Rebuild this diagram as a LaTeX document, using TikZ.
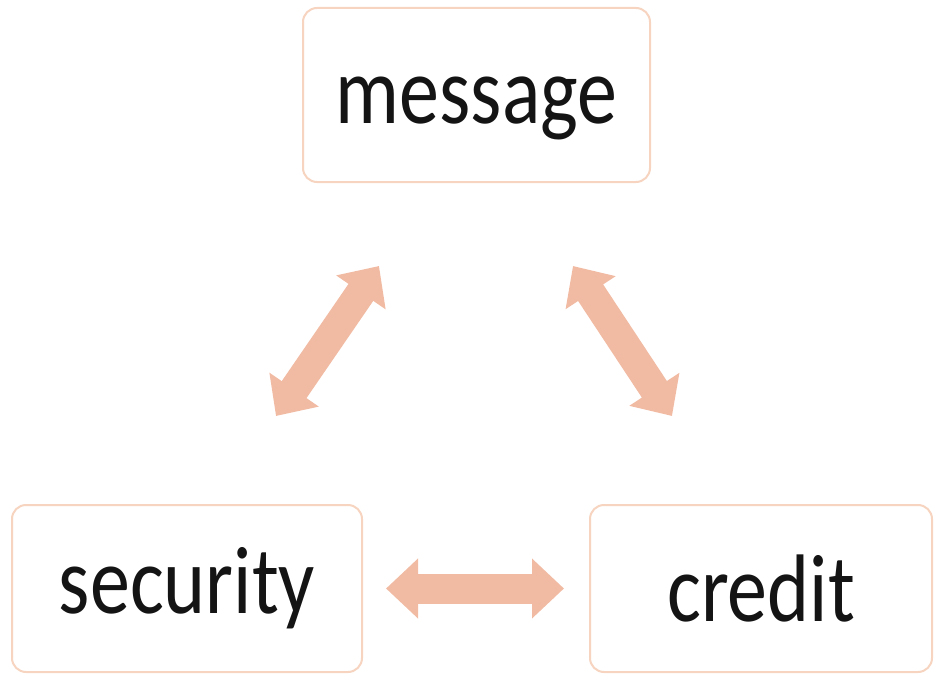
\documentclass[tikz,border=0pt]{standalone}
\usepackage{fontspec}
\setmainfont{Carlito}
\usetikzlibrary{arrows.meta, positioning}
\definecolor{boxline}{RGB}{246,212,192}
\definecolor{arrowfill}{RGB}{241,187,163}
\definecolor{wordcol}{RGB}{20,20,20}
\newcommand{\tallword}[1]{\scalebox{1}[1.2]{#1}}

\begin{document}
\begin{tikzpicture}[x=1pt, y=-1pt,
	box/.style={draw=boxline, line width=2pt, rounded corners=14pt, fill=white,
		minimum height=167pt, inner sep=0pt, text=wordcol, font=\fontsize{80}{96}\selectfont},
	dbl/.style={draw=arrowfill, line width=30pt,
		{Triangle[length=32pt, width=58pt]}-{Triangle[length=32pt, width=58pt]}}]
	\useasboundingbox (0,0) rectangle (935,677);

	\node[box, minimum width=347pt, minimum height=174pt] (message) at (476.5,95) {\rule{0pt}{74pt}\tallword{message}};
	\node[box, minimum width=350pt] (security) at (187,588.5) {\tallword{security}};
	\node[box, minimum width=342pt] (credit) at (761,588.5) {\tallword{credit}};

	\draw[dbl] ([shift={(77,83)}]message.south west) -- ([shift={(265,-88)}]security.north west);
	\draw[dbl] ([shift={(-78,83)}]message.south east) -- ([shift={(-89,-88)}]credit.north);
	\draw[dbl] ([xshift=23pt]security.east) -- ([xshift=-25pt]credit.west);
\end{tikzpicture}
\end{document}
